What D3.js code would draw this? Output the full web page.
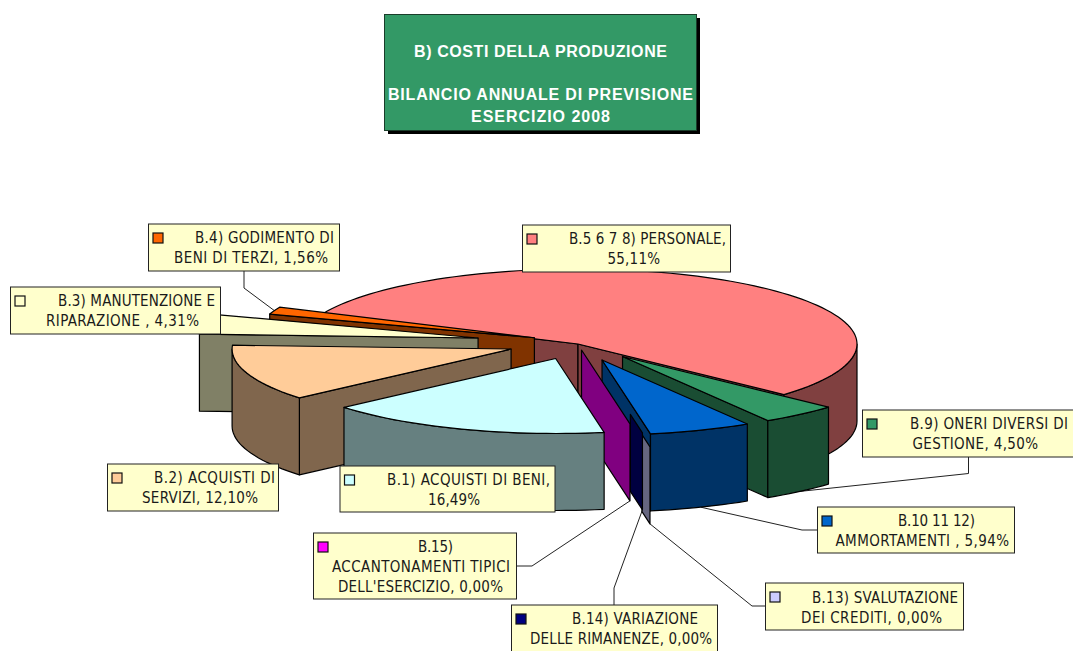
<!DOCTYPE html>
<html><head><meta charset="utf-8">
<script src="https://cdnjs.cloudflare.com/ajax/libs/d3/7.8.5/d3.min.js"></script>
<style>
html,body{margin:0;padding:0;background:#fff;overflow:hidden}
svg{display:block}
.lab{font-family:"DejaVu Sans Condensed","DejaVu Sans",sans-serif;font-stretch:condensed;font-size:15px;fill:#1a1a1a}
.ttl{font-family:"Liberation Sans",Arial,sans-serif;font-weight:bold;font-size:16px;fill:#fff}
</style></head><body>
<svg id="c" width="1073" height="651"></svg>
<script>
// ---------- data ----------
const categories = [
  "B.1) ACQUISTI DI BENI,\n{v}",
  "B.2) ACQUISTI DI\nSERVIZI, {v}",
  "B.3) MANUTENZIONE E\nRIPARAZIONE , {v}",
  "B.4) GODIMENTO DI\nBENI DI TERZI, {v}",
  "B.5 6 7 8) PERSONALE,\n{v}",
  "B.9) ONERI DIVERSI DI\nGESTIONE, {v}",
  "B.10 11 12)\nAMMORTAMENTI , {v}",
  "B.13) SVALUTAZIONE\nDEI CREDITI, {v}",
  "B.14) VARIAZIONE\nDELLE RIMANENZE, {v}",
  "B.15)\nACCANTONAMENTI TIPICI\nDELL'ESERCIZIO, {v}"
];
const values = [16.49, 12.10, 4.31, 1.56, 55.11, 4.50, 5.94, 0, 0, 0];
const colors = ["#CCFFFF","#FFCC99","#FFFFCC","#FF6600","#FF8080","#339966","#0066CC","#CCCCFF","#000080","#FF00FF"];
const titleLines = ["B) COSTI DELLA PRODUZIONE", "BILANCIO ANNUALE DI PREVISIONE", "ESERCIZIO 2008"];

// ---------- styling / layout ----------
const explode =        [0.209,0.249,0.367,0.177,0,0.231,0.23,0.396,0.208,0.081];
const explodeBearing = [112.5,164.4,192.6,208,0,46.3,68,77.7,74,81];
// fraction of the radius hidden at the hub end of a zero-width slice's wall
const wallFrom = [0,0,0,0,0,0,0,0.835,0.75,0];
const drawOrder = [4,3,2,1,5,6,7,8,9,0];
const startDeg = 80, depth = 77;
const center = {x:578, y:344}, radius = {x:279, y:75};

const layout = [
 {box:[340,466,215,46], lines:[[387,550,485],[428,480,505]]},
 {box:[107.5,464,171,47], lines:[[154,275,483],[142,258,503]]},
 {box:[10.5,287,210,47], lines:[[58,215,306],[46,199,326]]},
 {box:[148.5,224,191,47], lines:[[195,334,243],[174,328,263]], elbow:[[244,271],[244,288]], anchor:"top"},
 {box:[522.5,225,208,47], lines:[[569,726,244],[607.5,660,264]]},
 {box:[862.5,410,215,47], lines:[[910,1068,429],[912.5,1038,449]], elbow:[[968.5,457],[968.5,473.5]], anchor:"bottom"},
 {box:[817.5,507,197,46], lines:[[898,975,526],[835.5,1009,546]], elbow:[[817,530],[802,530]], anchor:"bottom"},
 {box:[765.5,583,198,47], lines:[[812,958,603],[801,942,623]], elbow:[[765,606],[752,606]], anchor:"bottom"},
 {box:[511.5,605,206,60], lines:[[572,698,624],[530,712,644]], elbow:[[614,605],[614,588]], anchor:"bottom"},
 {box:[313.5,533,203,66], lines:[[418,453,552],[332,510,572],[338,503,592]], elbow:[[516,566],[532,566]], anchor:"bottom"}
];
const titleBox = {x:384.5,y:14.5,w:312,h:116,shadow:3.5};
const titleRows = [[414,667,57],[388,693,100],[471,610,122]];

// ---------- scales ----------
const sx = d3.scaleLinear().domain([-1,1]).range([center.x-radius.x, center.x+radius.x]);
const sy = d3.scaleLinear().domain([-1,1]).range([center.y-radius.y, center.y+radius.y]);
const rad = d => d*Math.PI/180;
const deg = a => a*180/Math.PI;
const fmtPct = v => d3.format(".2f")(v).replace(".", ",") + "%";
const shade = c => { const r = d3.rgb(c); return d3.rgb(r.r/2, r.g/2, r.b/2).formatHex(); };

const pie = d3.pie().sort(null).startAngle(rad(startDeg)).endAngle(rad(startDeg+360));
const arcs = pie(values);

const slices = arcs.map((a,i) => {
  const t0 = deg(a.startAngle), t1 = deg(a.endAngle);
  const ox = explode[i]*Math.cos(rad(explodeBearing[i]));
  const oy = explode[i]*Math.sin(rad(explodeBearing[i]));
  const pt = (t, d=0, f=1) => [sx(ox+f*Math.cos(rad(t))), sy(oy+f*Math.sin(rad(t)))+d];
  return {i,t0,t1,pt,apex:(d=0)=>pt(0,d,0),color:colors[i]};
});

const svg = d3.select("#c");
const line = d3.line();
const arcPts = (s,a,b,d=0) => {
  const n = Math.max(1, Math.ceil(Math.abs(b-a)/2));
  return d3.range(n+1).map(k => s.pt(a+(b-a)*k/n, d));
};

// ---------- leader lines (behind the pie) ----------
const gLead = svg.append("g").attr("fill","none").attr("stroke","#222").attr("stroke-width",1);
layout.forEach((l,i) => {
  if(!l.elbow) return;
  const s = slices[i], m = (s.t0+s.t1)/2;
  const end = l.anchor==="top" ? s.pt(m) : s.pt(m,depth);
  gLead.append("path").attr("d", line([...l.elbow, end]));
});

// ---------- pie ----------
const gPie = svg.append("g").attr("stroke","#000").attr("stroke-width",1.2).attr("stroke-linejoin","round");
drawOrder.forEach(i => {
  const s = slices[i], dark = shade(s.color), f = wallFrom[i];
  const g = gPie.append("g");
  const wall = (t) => g.append("path").attr("fill",dark)
     .attr("d", line([s.pt(t,0,f), s.pt(t), s.pt(t,depth), s.pt(t,depth,f)])+"Z");
  if(Math.sin(rad(s.t0-90))>0 && s.t1>s.t0) wall(s.t0);
  if(Math.sin(rad(s.t1+90))>0) wall(s.t1);
  [0,360].forEach(k => {
    const a = Math.max(s.t0,k), b = Math.min(s.t1,k+180);
    if(b>a) g.append("path").attr("fill",dark)
      .attr("d", line([...arcPts(s,a,b), ...arcPts(s,b,a,depth)])+"Z");
  });
  if(s.t1>s.t0) g.append("path").attr("fill",s.color)
      .attr("d", line([s.apex(), ...arcPts(s,s.t0,s.t1)])+"Z");
});

// ---------- labels ----------
const gLab = svg.append("g");
layout.forEach((l,i) => {
  const [x,y,w,h] = l.box;
  gLab.append("rect").attr("x",x).attr("y",y).attr("width",w).attr("height",h)
    .attr("fill","#FFFFCC").attr("stroke","#222").attr("stroke-width",1);
  gLab.append("rect").attr("x",x+4.5).attr("y",y+9).attr("width",10).attr("height",10)
    .attr("fill",colors[i]).attr("stroke","#111").attr("stroke-width",1.2);
  const rows = categories[i].replace("{v}", fmtPct(values[i])).split("\n");
  rows.forEach((r,k) => {
    const [x0,x1,b] = l.lines[k];
    gLab.append("text").attr("class","lab").attr("x",x0).attr("y",b)
      .attr("textLength",x1-x0).attr("lengthAdjust","spacing").text(r);
  });
});

// ---------- title ----------
const gT = svg.append("g");
gT.append("rect").attr("x",titleBox.x+titleBox.shadow).attr("y",titleBox.y+titleBox.shadow)
  .attr("width",titleBox.w).attr("height",titleBox.h).attr("fill","#000");
gT.append("rect").attr("x",titleBox.x).attr("y",titleBox.y).attr("width",titleBox.w).attr("height",titleBox.h)
  .attr("fill","#339966").attr("stroke","#1a3d2a").attr("stroke-width",1);
titleLines.forEach((t,k) => {
  const [x0,x1,b] = titleRows[k];
  gT.append("text").attr("class","ttl").attr("x",x0).attr("y",b)
    .attr("textLength",x1-x0).attr("lengthAdjust","spacing").text(t);
});
</script>
</body></html>
